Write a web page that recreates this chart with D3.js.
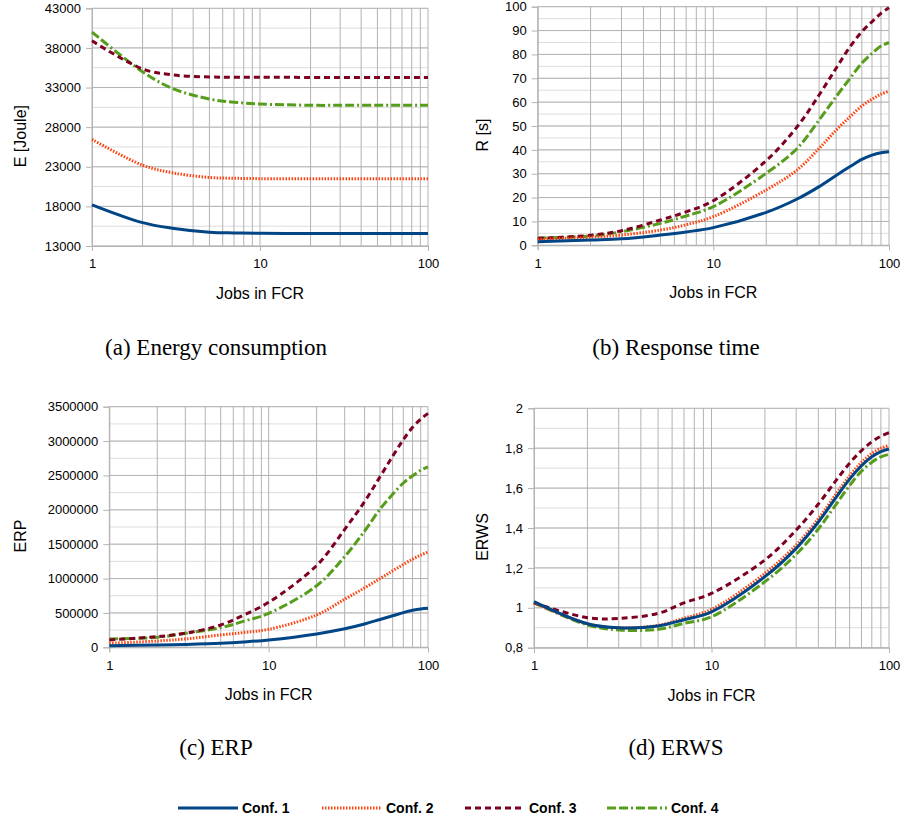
<!DOCTYPE html>
<html>
<head>
<meta charset="utf-8">
<script src="https://cdn.jsdelivr.net/npm/d3@7"></script>
<style>
  body { margin: 0; background: #fff; }
  text { font-family: "Liberation Sans", Arial, sans-serif; fill: #000; }
  .caption { font-family: "Liberation Serif", "DejaVu Serif", serif; }
</style>
</head>
<body>
<div id="chart"></div>
<script>
// jobs in FCR (x values)
var jobs = [1, 2, 3, 5, 7, 10, 20, 30, 40, 50, 60, 70, 80, 90, 100];
var confNames = ["Conf. 1", "Conf. 2", "Conf. 3", "Conf. 4"];

// (a) energy consumption
var energy1 = [18200, 15950, 15250, 14750, 14650, 14600, 14580, 14580, 14580, 14580, 14580, 14580, 14580, 14580, 14580];
var energy2 = [26450, 23200, 22250, 21650, 21550, 21500, 21480, 21480, 21480, 21480, 21480, 21480, 21480, 21480, 21480];
var energy3 = [38900, 35350, 34600, 34330, 34300, 34290, 34280, 34280, 34280, 34280, 34280, 34280, 34280, 34280, 34280];
var energy4 = [40000, 35000, 32900, 31550, 31150, 30920, 30760, 30750, 30750, 30750, 30750, 30750, 30750, 30750, 30750];

// (b) response time
var resp1 = [1.5, 2.2, 2.7, 4.3, 5.6, 7.4, 13.8, 19.4, 24.6, 29.3, 33.0, 36.0, 37.8, 38.8, 39.2];
var resp2 = [2.5, 3.4, 4.3, 6.4, 8.6, 12, 23.2, 31.6, 40.6, 48.3, 53.9, 58.4, 61.2, 63.3, 64.6];
var resp3 = [2.9, 4.2, 6.1, 10.6, 14, 18.7, 35.5, 49.7, 63, 74.2, 83.2, 89.5, 93.7, 97.2, 99.6];
var resp4 = [3.1, 3.9, 5.7, 9.2, 12.3, 16.2, 30.2, 40.6, 52.5, 62.3, 70, 76.3, 80.4, 83.5, 85];

// (c) ERP
var erp1 = [24000, 34000, 42000, 58000, 78000, 107000, 195000, 270000, 340000, 405000, 458000, 505000, 538000, 558000, 567000];
var erp2 = [58000, 92000, 121000, 180000, 215000, 262000, 470000, 700000, 865000, 1000000, 1112000, 1205000, 1282000, 1342000, 1385000];
var erp3 = [107000, 155000, 204000, 325000, 470000, 654000, 1190000, 1715000, 2120000, 2480000, 2780000, 3020000, 3200000, 3320000, 3403000];
var erp4 = [121000, 145000, 204000, 286000, 380000, 494000, 895000, 1320000, 1690000, 2010000, 2225000, 2390000, 2495000, 2575000, 2625000];

// (d) ERWS
var erws1 = [1.031, 0.920, 0.900, 0.909, 0.940, 0.980, 1.156, 1.298, 1.430, 1.550, 1.645, 1.712, 1.757, 1.783, 1.796];
var erws2 = [1.025, 0.920, 0.900, 0.912, 0.948, 0.992, 1.173, 1.315, 1.447, 1.567, 1.662, 1.729, 1.774, 1.800, 1.813];
var erws3 = [1.025, 0.950, 0.947, 0.972, 1.025, 1.072, 1.240, 1.390, 1.520, 1.635, 1.725, 1.788, 1.832, 1.860, 1.878];
var erws4 = [1.025, 0.914, 0.889, 0.892, 0.922, 0.955, 1.131, 1.268, 1.395, 1.515, 1.613, 1.685, 1.730, 1.757, 1.769];

// y ticks
var energyTicks = [13000, 18000, 23000, 28000, 33000, 38000, 43000];
var respTicks = [0, 10, 20, 30, 40, 50, 60, 70, 80, 90, 100];
var erpTicks = [0, 500000, 1000000, 1500000, 2000000, 2500000, 3000000, 3500000];
var erwsTicks = [0.8, 1, 1.2, 1.4, 1.6, 1.8, 2];
var xTicks = [1, 10, 100];

var colors = ["#004586", "#ff420e", "#7e0021", "#579d1c"];
var dashes = [null, "1.5,1.5", "6,4", "9,3,9,3,2,3"];

var svg = d3.select("#chart").append("svg")
  .attr("width", 904)
  .attr("height", 825);

var panels = [
  { box: [92, 428, 8.3, 246], domain: [13000, 43000], step: 2500, ticks: energyTicks,
    series: [energy1, energy2, energy3, energy4], ylabel: "E [Joule]", fmt: d3.format("d"),
    caption: "(a) Energy consumption", capX: 216, capY: 355 },
  { box: [537.7, 889, 6.7, 245.3], domain: [0, 100], step: 5, ticks: respTicks,
    series: [resp1, resp2, resp3, resp4], ylabel: "R [s]", fmt: d3.format("d"),
    caption: "(b) Response time", capX: 676, capY: 355 },
  { box: [109.3, 428, 406.7, 647.3], domain: [0, 3500000], step: 250000, ticks: erpTicks,
    series: [erp1, erp2, erp3, erp4], ylabel: "ERP", fmt: d3.format("d"),
    caption: "(c) ERP", capX: 216, capY: 755 },
  { box: [534, 889, 408.3, 647.7], domain: [0.8, 2], step: 0.1, ticks: erwsTicks,
    series: [erws1, erws2, erws3, erws4], ylabel: "ERWS",
    fmt: function (d) { return String(+d.toFixed(1)).replace(".", ","); },
    caption: "(d) ERWS", capX: 676, capY: 755 }
];

panels.forEach(function (p) {
  var left = p.box[0], right = p.box[1], top = p.box[2], bottom = p.box[3];
  var x = d3.scaleLog().domain([1, 100]).range([left, right]);
  var y = d3.scaleLinear().domain(p.domain).range([bottom, top]);
  var g = svg.append("g");

  // horizontal minor grid
  var minorY = d3.range(p.domain[0], p.domain[1] + p.step / 2, p.step);
  g.append("g").selectAll("line")
    .data(minorY)
    .enter().append("line")
    .attr("x1", left).attr("x2", right)
    .attr("y1", function (d) { return y(d); })
    .attr("y2", function (d) { return y(d); })
    .attr("stroke", "#dddddd").attr("stroke-width", 1);

  // horizontal major grid
  g.append("g").selectAll("line")
    .data(p.ticks)
    .enter().append("line")
    .attr("x1", left).attr("x2", right)
    .attr("y1", function (d) { return y(d); })
    .attr("y2", function (d) { return y(d); })
    .attr("stroke", "#b3b3b3").attr("stroke-width", 1);

  // vertical grid (log)
  var vx = [];
  [1, 10].forEach(function (dec) {
    for (var k = 1; k < 10; k++) vx.push(dec * k);
  });
  vx.push(100);
  g.append("g").selectAll("line")
    .data(vx)
    .enter().append("line")
    .attr("x1", function (d) { return x(d); })
    .attr("x2", function (d) { return x(d); })
    .attr("y1", top).attr("y2", bottom)
    .attr("stroke", "#b3b3b3").attr("stroke-width", 1);

  // y axis
  var yAxis = g.append("g")
    .attr("transform", "translate(" + left + ",0)")
    .call(d3.axisLeft(y).tickValues(p.ticks).tickFormat(p.fmt).tickSize(6).tickPadding(5));
  yAxis.select(".domain").attr("stroke", "#b3b3b3");
  yAxis.selectAll(".tick line").attr("stroke", "#b3b3b3");
  yAxis.selectAll("text").attr("font-size", 13).attr("font-family", "Liberation Sans").attr("fill", "#000");

  // x axis
  var xAxis = g.append("g")
    .attr("transform", "translate(0," + bottom + ")")
    .call(d3.axisBottom(x).tickValues(xTicks).tickFormat(d3.format("d")).tickSize(5).tickPadding(8));
  xAxis.select(".domain").attr("stroke", "#b3b3b3");
  xAxis.selectAll(".tick line").attr("stroke", "#b3b3b3");
  xAxis.selectAll("text").attr("font-size", 13).attr("font-family", "Liberation Sans").attr("fill", "#000");

  // axis titles
  g.append("text")
    .attr("x", (left + right) / 2)
    .attr("y", bottom + 53)
    .attr("text-anchor", "middle")
    .attr("font-size", 16)
    .text("Jobs in FCR");

  var midY = (top + bottom) / 2 + 9;
  g.append("text")
    .attr("transform", "translate(" + (p.box[0] < 300 ? 26 : 488) + "," + midY + ") rotate(-90)")
    .attr("text-anchor", "middle")
    .attr("font-size", 16)
    .text(p.ylabel);

  // lines (draw Conf. 4 first so Conf. 1 is on top)
  var line = d3.line()
    .x(function (d, i) { return x(jobs[i]); })
    .y(function (d) { return y(d); })
    .curve(d3.curveCatmullRom.alpha(0.5));

  [3, 2, 1, 0].forEach(function (s) {
    g.append("path")
      .datum(p.series[s])
      .attr("d", line)
      .attr("fill", "none")
      .attr("stroke", colors[s])
      .attr("stroke-width", 3)
      .attr("stroke-dasharray", dashes[s]);
  });

  // caption
  svg.append("text")
    .attr("class", "caption")
    .attr("x", p.capX)
    .attr("y", p.capY)
    .attr("text-anchor", "middle")
    .attr("font-size", 23)
    .style("font-family", "'Liberation Serif', serif")
    .text(p.caption);
});

// legend
var legendX = [178, 322, 465, 607];
var legend = svg.append("g");
confNames.forEach(function (name, i) {
  legend.append("line")
    .attr("x1", legendX[i]).attr("x2", legendX[i] + 60)
    .attr("y1", 808).attr("y2", 808)
    .attr("stroke", colors[i])
    .attr("stroke-width", 3)
    .attr("stroke-dasharray", dashes[i]);
  legend.append("text")
    .attr("x", legendX[i] + 64)
    .attr("y", 813)
    .attr("font-size", 14)
    .attr("font-weight", "bold")
    .text(name);
});
</script>
</body>
</html>
